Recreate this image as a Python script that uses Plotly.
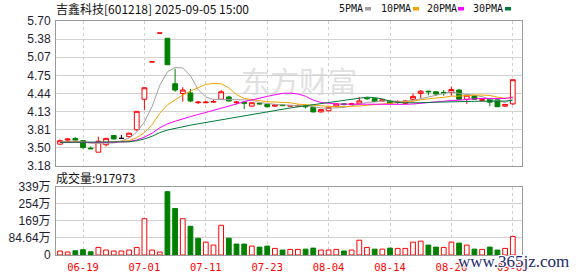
import pandas as pd
import plotly.graph_objects as go

# ---------------- data ----------------
dates = ["06-16", "06-17", "06-18", "06-19", "06-20", "06-23", "06-24", "06-25", "06-26", "06-27",
         "06-30", "07-01", "07-02", "07-03", "07-04", "07-07", "07-08", "07-09", "07-10", "07-11",
         "07-14", "07-15", "07-16", "07-17", "07-18", "07-21", "07-22", "07-23", "07-24", "07-25",
         "07-28", "07-29", "07-30", "07-31", "08-01", "08-04", "08-05", "08-06", "08-07", "08-08",
         "08-11", "08-12", "08-13", "08-14", "08-15", "08-18", "08-19", "08-20", "08-21", "08-22",
         "08-25", "08-26", "08-27", "08-28", "08-29", "09-01", "09-02", "09-03", "09-04", "09-05"]

open_ = [3.56, 3.63, 3.66, 3.62, 3.49, 3.42, 3.55, 3.71, 3.66, 3.69,
         3.81, 4.34, 4.99, 5.49, 5.40, 4.61, 4.44, 4.45, 4.28, 4.28,
         4.29, 4.34, 4.38, 4.28, 4.29, 4.22, 4.27, 4.25, 4.22, 4.24,
         4.22, 4.22, 4.23, 4.20, 4.12, 4.14, 4.22, 4.26, 4.25, 4.26,
         4.36, 4.35, 4.31, 4.31, 4.29, 4.27, 4.34, 4.44, 4.48, 4.47,
         4.46, 4.46, 4.50, 4.34, 4.40, 4.32, 4.34, 4.33, 4.22, 4.26]
high = [3.64, 3.66, 3.68, 3.63, 3.52, 3.69, 3.67, 3.72, 3.72, 3.76,
        4.13, 4.54, 4.99, 5.49, 5.40, 4.87, 4.55, 4.52, 4.31, 4.31,
        4.33, 4.50, 4.40, 4.31, 4.30, 4.29, 4.28, 4.26, 4.25, 4.25,
        4.24, 4.25, 4.25, 4.21, 4.17, 4.21, 4.27, 4.27, 4.28, 4.38,
        4.38, 4.36, 4.34, 4.32, 4.32, 4.32, 4.44, 4.50, 4.49, 4.48,
        4.50, 4.56, 4.52, 4.42, 4.41, 4.36, 4.35, 4.33, 4.26, 4.68]
low = [3.55, 3.62, 3.62, 3.48, 3.48, 3.42, 3.52, 3.64, 3.66, 3.67,
       3.79, 4.15, 4.99, 5.49, 4.94, 4.47, 4.30, 4.29, 4.26, 4.27,
       4.28, 4.33, 4.30, 4.25, 4.17, 4.21, 4.25, 4.20, 4.21, 4.22,
       4.21, 4.21, 4.18, 4.11, 4.11, 4.13, 4.21, 4.23, 4.24, 4.25,
       4.33, 4.29, 4.30, 4.26, 4.26, 4.26, 4.30, 4.36, 4.41, 4.40,
       4.40, 4.40, 4.33, 4.26, 4.33, 4.30, 4.22, 4.21, 4.21, 4.24]
close = [3.62, 3.65, 3.63, 3.50, 3.48, 3.61, 3.66, 3.65, 3.66, 3.75,
         4.13, 4.54, 4.99, 5.49, 4.94, 4.50, 4.50, 4.31, 4.29, 4.29,
         4.30, 4.47, 4.31, 4.29, 4.27, 4.28, 4.26, 4.21, 4.24, 4.23,
         4.23, 4.23, 4.21, 4.12, 4.16, 4.20, 4.26, 4.25, 4.26, 4.31,
         4.35, 4.30, 4.33, 4.27, 4.30, 4.31, 4.39, 4.48, 4.47, 4.43,
         4.45, 4.51, 4.34, 4.41, 4.34, 4.33, 4.29, 4.21, 4.25, 4.68]

# volume in 万 (10k)
volume = [19.6, 14.7, 21, 26, 16, 37.5, 24.5, 19.6, 19.6, 24.5,
          37.5, 179.5, 24.5, 14.7, 313, 230, 179.5, 142, 83, 63.6,
          49, 147, 83, 54, 54, 44, 39, 44, 32.6, 24.5,
          27.7, 27.7, 29, 34, 24.5, 24.5, 27.7, 19.6, 24.5, 73,
          37.5, 29, 29, 34, 32.6, 32.6, 63.6, 68.5, 49, 39,
          37.5, 63.6, 58.7, 49, 29, 27.7, 39, 24.5, 32.6, 91.8]
# 1 = red (up) volume bar, 0 = green (down)
volume_up = [1, 1, 0, 0, 0, 1, 1, 1, 1, 1,
             1, 1, 1, 1, 0, 0, 1, 0, 0, 1,
             1, 1, 0, 0, 0, 1, 0, 0, 1, 0,
             1, 1, 0, 0, 1, 1, 1, 0, 1, 1,
             1, 0, 1, 0, 1, 1, 1, 1, 0, 0,
             1, 1, 0, 1, 0, 1, 0, 0, 1, 1]

tick_dates = ["06-19", "07-01", "07-11", "07-23", "08-04", "08-14", "08-26", "09-05"]
price_ticks = [3.18, 3.495, 3.81, 4.125, 4.44, 4.755, 5.07, 5.385, 5.70]
price_ticktext = ["3.18", "3.50", "3.81", "4.13", "4.44", "4.75", "5.07", "5.38", "5.70"]
vol_ticks = [0, 84.64, 169.28, 253.92, 338.56]
vol_ticktext = ["0", "84.64万", "169万", "254万", "339万"]

ma_periods = [5, 10, 20, 30]
ma_names = ["5PMA", "10PMA", "20PMA", "30PMA"]
ma_colors = ["#a0a0a0", "#f5a200", "#ff00ff", "#007a3a"]
# price level of the averages where the window reaches before the first shown day (read at the left edge)
ma_prior_level = 3.59

title_text = "吉鑫科技[601218] 2025-09-05 15:00"
vol_title = "成交量:917973"

RED = "#ff0000"
GREEN = "#008000"

# ---------------- geometry helpers (pixel -> paper) ----------------
W, H = 578, 276
ML, MR, MT, MB = 56, 56, 21, 21
PW, PH = W - ML - MR, H - MT - MB


def pxx(x):
    return (x - ML) / PW


def pxy(y):
    return (H - MB - y) / PH


idx = list(range(len(dates)))


def moving_average(values, p, prior):
    out = []
    for i in range(len(values)):
        win = values[max(0, i - p + 1): i + 1]
        missing = p - len(win)
        out.append((sum(win) + missing * prior) / p)
    return out


# split candles: black doji (open == close with range) vs normal
norm = [i for i in idx if not (open_[i] == close[i] and high[i] != low[i])]
black = [i for i in idx if i not in norm]

fig = go.Figure()

fig.add_trace(go.Candlestick(
    x=norm,
    open=[open_[i] for i in norm], high=[high[i] for i in norm],
    low=[low[i] for i in norm], close=[close[i] for i in norm],
    increasing=dict(line=dict(color=RED, width=1), fillcolor="#ffffff"),
    decreasing=dict(line=dict(color=GREEN, width=1), fillcolor=GREEN),
    whiskerwidth=0, xaxis="x", yaxis="y", showlegend=False, hoverinfo="skip"))

if black:
    fig.add_trace(go.Candlestick(
        x=black,
        open=[open_[i] for i in black], high=[high[i] for i in black],
        low=[low[i] for i in black], close=[close[i] for i in black],
        increasing=dict(line=dict(color="#000000", width=1), fillcolor="#000000"),
        decreasing=dict(line=dict(color="#000000", width=1), fillcolor="#000000"),
        whiskerwidth=0, xaxis="x", yaxis="y", showlegend=False, hoverinfo="skip"))

for p, c in zip(ma_periods, ma_colors):
    ma = moving_average(close, p, ma_prior_level)
    fig.add_trace(go.Scatter(x=idx, y=ma, mode="lines", line=dict(color=c, width=1),
                             xaxis="x", yaxis="y", showlegend=False, hoverinfo="skip"))

fig.add_trace(go.Bar(
    x=idx, y=volume, width=0.62,
    marker=dict(color=["#ffffff" if u else GREEN for u in volume_up],
                line=dict(color=[RED if u else GREEN for u in volume_up], width=1)),
    xaxis="x2", yaxis="y2", showlegend=False, hoverinfo="skip"))

tickpos = [dates.index(d) for d in tick_dates]
xr = [-0.52, 60.2]

price_dom = [pxy(166), 1.0]
vol_dom = [0.0, pxy(186.5)]

axis_common = dict(showline=True, mirror=True, linecolor="#9a9a9a", linewidth=1,
                   zeroline=False, ticks="", fixedrange=True, automargin=False)
tickfont_y = dict(family="Liberation Sans, Noto Sans CJK SC", size=12, color="#1e1e30")

fig.update_layout(
    width=W, height=H,
    margin=dict(l=ML, r=MR, t=MT, b=MB, pad=0, autoexpand=False),
    paper_bgcolor="#ffffff", plot_bgcolor="#ffffff",
    showlegend=False,
    boxgap=0.38, boxgroupgap=0,
    xaxis=dict(domain=[0, 1], anchor="y", range=xr, tickvals=tickpos, ticktext=tick_dates,
               showticklabels=False, showgrid=True, gridcolor="#cfcfcf", griddash="3px,3px",
               gridwidth=1, rangeslider=dict(visible=False), **axis_common),
    yaxis=dict(domain=price_dom, anchor="x", range=[3.18, 5.70], tickvals=price_ticks,
               ticktext=price_ticktext, showgrid=True, gridcolor="#d2d2d2", gridwidth=1,
               tickfont=tickfont_y, ticklabelstandoff=2, **axis_common),
    xaxis2=dict(domain=[0, 1], anchor="y2", range=xr, matches="x", tickvals=tickpos,
                ticktext=tick_dates, showticklabels=True, showgrid=True, gridcolor="#cfcfcf",
                griddash="3px,3px", gridwidth=1, ticklabelstandoff=2,
                tickfont=dict(family="DejaVu Sans Mono", size=10.5, color=RED),
                rangeslider=dict(visible=False), **axis_common),
    yaxis2=dict(domain=vol_dom, anchor="x2", range=[0, 338.56], tickvals=vol_ticks,
                ticktext=vol_ticktext, showgrid=True, gridcolor="#d2d2d2", gridwidth=1,
                tickfont=tickfont_y, ticklabelstandoff=2, **axis_common),
)

annotations = [
    dict(text=title_text, xref="paper", yref="paper", x=pxx(54), y=pxy(9),
         xanchor="left", yanchor="middle", showarrow=False,
         font=dict(family="Noto Sans CJK SC", size=12, color="#111111")),
    dict(text=vol_title, xref="paper", yref="paper", x=pxx(54), y=pxy(177),
         xanchor="left", yanchor="middle", showarrow=False,
         font=dict(family="Noto Sans CJK SC", size=12, color="#111111")),
]

legend_x = [337, 379, 425, 471]
square_x = [365, 413, 458, 505]
shapes = []
for name, c, lx, sx in zip(ma_names, ma_colors, legend_x, square_x):
    annotations.append(dict(text=name, xref="paper", yref="paper", x=pxx(lx), y=pxy(9),
                            xanchor="left", yanchor="middle", showarrow=False,
                            font=dict(family="DejaVu Sans Mono", size=10, color="#111111")))
    shapes.append(dict(type="rect", xref="paper", yref="paper", x0=pxx(sx), x1=pxx(sx + 6),
                       y0=pxy(10.5), y1=pxy(7), fillcolor=c, line=dict(width=0), layer="above"))

# watermarks
shapes.append(dict(type="rect", xref="paper", yref="paper", x0=pxx(236), x1=pxx(362),
                   y0=pxy(100), y1=pxy(70), line=dict(width=0), fillcolor="rgba(0,0,0,0)",
                   layer="between",
                   label=dict(text="东方财富", textposition="middle center",
                              font=dict(family="Noto Sans CJK SC", size=29, color="#e0e0e0"))))
annotations.append(dict(text="www.365jz.com", xref="paper", yref="paper", x=pxx(513), y=pxy(261),
                        xanchor="center", yanchor="middle", showarrow=False,
                        font=dict(family="Liberation Serif", size=17, color="#1c2a6b",
                                  shadow="1px 1px 0 #fff, -1px -1px 0 #fff, 1px -1px 0 #fff, -1px 1px 0 #fff")))

fig.update_layout(annotations=annotations, shapes=shapes)

fig.write_html("out.html", config={"displayModeBar": False, "staticPlot": True})
